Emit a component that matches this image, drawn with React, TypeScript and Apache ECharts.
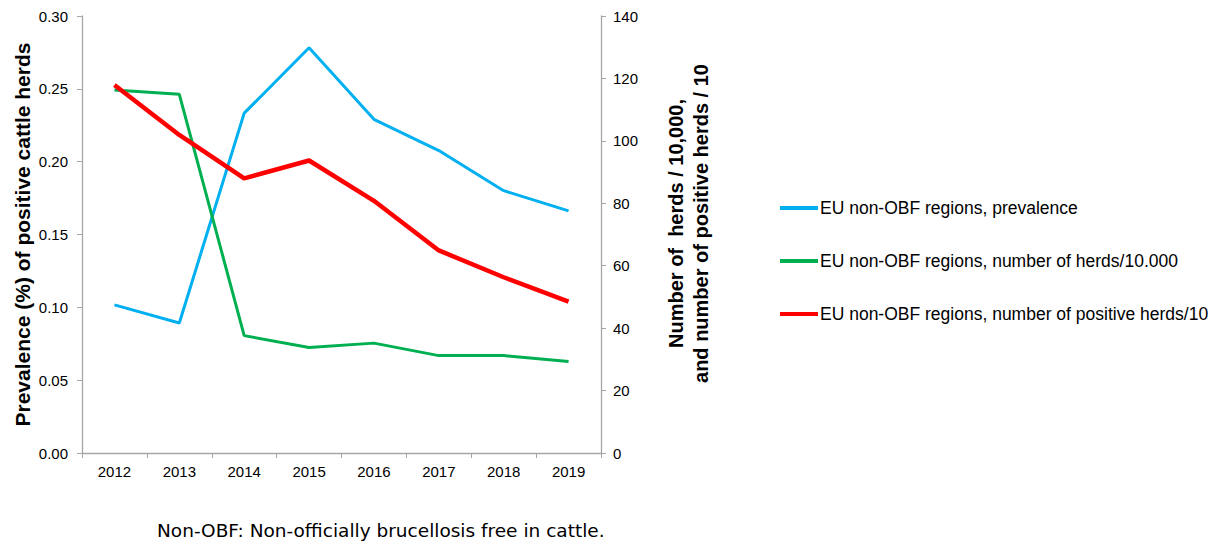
import React, { useEffect, useRef } from "react";
import * as echarts from "echarts";

const years = ["2012", "2013", "2014", "2015", "2016", "2017", "2018", "2019"];
const prevalence = [0.1017, 0.0892, 0.2333, 0.2782, 0.2291, 0.2076, 0.1801, 0.1662];
const herds = [116.3, 114.9, 37.6, 33.8, 35.2, 31.2, 31.2, 29.3];
const positiveHerds = [117.9, 101.9, 88.0, 93.7, 80.8, 64.9, 56.3, 48.5];

const seriesNames = [
  "EU non-OBF regions, prevalence",
  "EU non-OBF regions, number of herds/10.000",
  "EU non-OBF regions, number of positive herds/10",
];

const FONT = "'Liberation Sans', Arial, sans-serif";
const AXIS_GRAY = "#a6a6a6";

export default function App() {
  const ref = useRef<HTMLDivElement>(null);
  useEffect(() => {
    if (!ref.current) return;
    const chart = echarts.init(ref.current, null, { renderer: "svg" });
    chart.setOption({
      animation: false,
      textStyle: { fontFamily: FONT },
      grid: { left: 82, right: 619, top: 16, bottom: 93, containLabel: false },
      legend: {
        orient: "vertical",
        left: 780,
        top: 199,
        padding: 0,
        itemWidth: 38,
        itemHeight: 4,
        itemGap: 35,
        icon: "rect",
        textStyle: { fontFamily: FONT, fontSize: 17.5, color: "#000", padding: [0, 0, 0, -3] },
        data: seriesNames,
      },
      xAxis: {
        type: "category",
        data: years,
        boundaryGap: true,
        axisLine: { lineStyle: { color: AXIS_GRAY, width: 1.3 } },
        axisTick: { show: true, length: 5, lineStyle: { color: AXIS_GRAY } },
        axisLabel: { color: "#000", fontSize: 15, margin: 11, fontFamily: FONT },
      },
      yAxis: [
        {
          type: "value",
          min: 0,
          max: 0.3,
          interval: 0.05,
          position: "left",
          splitLine: { show: false },
          axisLine: { show: true, lineStyle: { color: AXIS_GRAY, width: 1.3 } },
          axisTick: { show: true, length: 5, lineStyle: { color: AXIS_GRAY } },
          axisLabel: {
            color: "#000",
            fontSize: 15,
            margin: 14,
            fontFamily: FONT,
            formatter: (v: number) => v.toFixed(2),
          },
          name: "Prevalence (%) of positive cattle herds",
          nameLocation: "middle",
          nameGap: 49,
          nameTextStyle: { fontSize: 21, fontWeight: "bold", color: "#000", fontFamily: FONT },
        },
        {
          type: "value",
          min: 0,
          max: 140,
          interval: 20,
          position: "right",
          splitLine: { show: false },
          axisLine: { show: true, lineStyle: { color: AXIS_GRAY, width: 1.3 } },
          axisTick: { show: true, length: 5, lineStyle: { color: AXIS_GRAY } },
          axisLabel: { color: "#000", fontSize: 15, margin: 12, fontFamily: FONT },
          name: "Number of  herds / 10,000,\nand number of positive herds / 10",
          nameLocation: "middle",
          nameGap: 62,
          nameTextStyle: {
            fontSize: 20,
            fontWeight: "bold",
            color: "#000",
            fontFamily: FONT,
            lineHeight: 25,
            align: "center",
            padding: [0, 0, 0, 22],
          },
        },
      ],
      series: [
        {
          name: seriesNames[0],
          type: "line",
          yAxisIndex: 0,
          data: prevalence,
          symbol: "none",
          lineStyle: { color: "#00b0f0", width: 3 },
          itemStyle: { color: "#00b0f0" },
        },
        {
          name: seriesNames[1],
          type: "line",
          yAxisIndex: 1,
          data: herds,
          symbol: "none",
          lineStyle: { color: "#00b050", width: 3 },
          itemStyle: { color: "#00b050" },
        },
        {
          name: seriesNames[2],
          type: "line",
          yAxisIndex: 1,
          data: positiveHerds,
          symbol: "none",
          lineStyle: { color: "#ff0000", width: 4.5 },
          itemStyle: { color: "#ff0000" },
        },
      ],
      graphic: [
        {
          type: "text",
          left: 157,
          top: 521,
          style: {
            text: "Non-OBF: Non-officially brucellosis free in cattle.",
            fontFamily: "'DejaVu Sans', Tahoma, sans-serif",
            fontSize: 18.5,
            fill: "#000",
          },
        },
      ],
    });
    return () => chart.dispose();
  }, []);
  return <div ref={ref} style={{ width: 1220, height: 546, position: "absolute", left: 0, top: 0 }} />;
}
